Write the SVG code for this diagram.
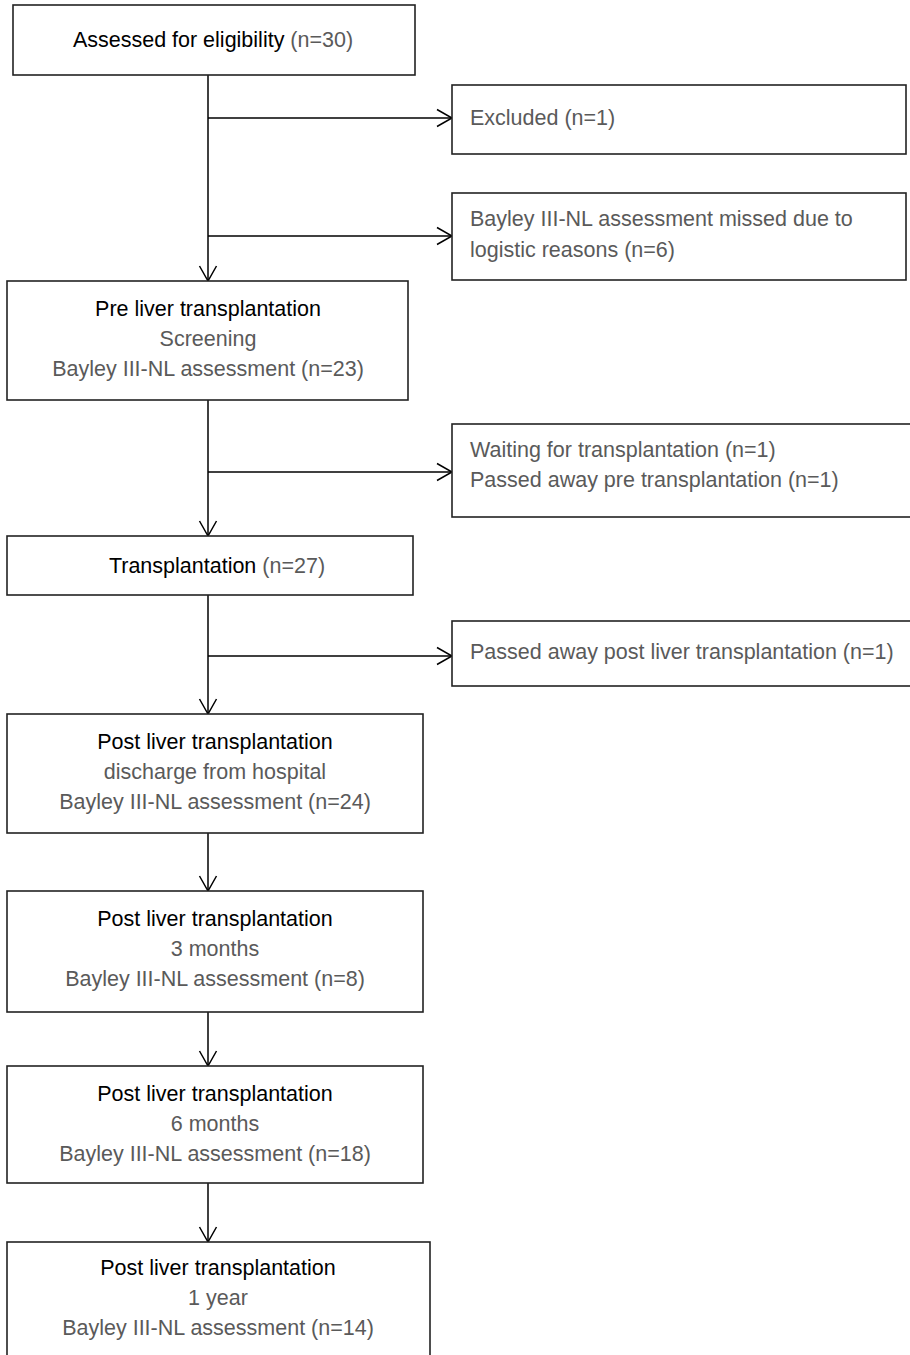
<svg xmlns="http://www.w3.org/2000/svg" width="910" height="1355" viewBox="0 0 910 1355">
<style>
  .box { fill: #ffffff; stroke: #222222; stroke-width: 1.6; }
  .t { font-family: "Liberation Sans", Arial, sans-serif; font-size: 21.5px; }
  .h { fill: #000000; }
  .g { fill: #5a5a5a; }
  .c { text-anchor: middle; }
  .conn { fill: none; stroke: #000000; stroke-width: 1.5; }
</style>
<defs>
  <marker id="arr" markerUnits="userSpaceOnUse" markerWidth="18" markerHeight="20" viewBox="0 0 18 20" refX="16" refY="10" orient="auto">
    <path d="M1,1.5 L16,10 L1,18.5" fill="none" stroke="#000000" stroke-width="1.5"/>
  </marker>
</defs>
<rect x="0" y="0" width="910" height="1355" fill="#ffffff"/>

<g id="connectors">
  <line class="conn" x1="208" y1="75" x2="208" y2="281" marker-end="url(#arr)"/>
  <line class="conn" x1="208" y1="118" x2="452" y2="118" marker-end="url(#arr)"/>
  <line class="conn" x1="208" y1="236" x2="452" y2="236" marker-end="url(#arr)"/>
  <line class="conn" x1="208" y1="400" x2="208" y2="536" marker-end="url(#arr)"/>
  <line class="conn" x1="208" y1="472" x2="452" y2="472" marker-end="url(#arr)"/>
  <line class="conn" x1="208" y1="595" x2="208" y2="714" marker-end="url(#arr)"/>
  <line class="conn" x1="208" y1="656" x2="452" y2="656" marker-end="url(#arr)"/>
  <line class="conn" x1="208" y1="833" x2="208" y2="891" marker-end="url(#arr)"/>
  <line class="conn" x1="208" y1="1012" x2="208" y2="1066" marker-end="url(#arr)"/>
  <line class="conn" x1="208" y1="1183" x2="208" y2="1242" marker-end="url(#arr)"/>
</g>

<g id="assessed">
  <rect class="box" x="13" y="5" width="402" height="70"/>
  <text class="t c" x="213" y="47"><tspan class="h">Assessed for eligibility</tspan><tspan class="g"> (n=30)</tspan></text>
</g>

<g id="excluded">
  <rect class="box" x="452" y="85" width="454" height="69"/>
  <text class="t g" x="470" y="125">Excluded (n=1)</text>
</g>

<g id="missed">
  <rect class="box" x="452" y="193" width="454" height="87"/>
  <text class="t g" x="470" y="226">Bayley III-NL assessment missed due to</text>
  <text class="t g" x="470" y="257">logistic reasons (n=6)</text>
</g>

<g id="pre">
  <rect class="box" x="7" y="281" width="401" height="119"/>
  <text class="t c h" x="208" y="316">Pre liver transplantation</text>
  <text class="t c g" x="208" y="346">Screening</text>
  <text class="t c g" x="208" y="376">Bayley III-NL assessment (n=23)</text>
</g>

<g id="waiting">
  <rect class="box" x="452" y="424" width="470" height="93"/>
  <text class="t g" x="470" y="457">Waiting for transplantation (n=1)</text>
  <text class="t g" x="470" y="487">Passed away pre transplantation (n=1)</text>
</g>

<g id="transplantation">
  <rect class="box" x="7" y="536" width="406" height="59"/>
  <text class="t c" x="217" y="573"><tspan class="h">Transplantation</tspan><tspan class="g"> (n=27)</tspan></text>
</g>

<g id="passedpost">
  <rect class="box" x="452" y="621" width="470" height="65"/>
  <text class="t g" x="470" y="659">Passed away post liver transplantation (n=1)</text>
</g>

<g id="post-discharge">
  <rect class="box" x="7" y="714" width="416" height="119"/>
  <text class="t c h" x="215" y="749">Post liver transplantation</text>
  <text class="t c g" x="215" y="779">discharge from hospital</text>
  <text class="t c g" x="215" y="809">Bayley III-NL assessment (n=24)</text>
</g>

<g id="post-3m">
  <rect class="box" x="7" y="891" width="416" height="121"/>
  <text class="t c h" x="215" y="926">Post liver transplantation</text>
  <text class="t c g" x="215" y="956">3 months</text>
  <text class="t c g" x="215" y="986">Bayley III-NL assessment (n=8)</text>
</g>

<g id="post-6m">
  <rect class="box" x="7" y="1066" width="416" height="117"/>
  <text class="t c h" x="215" y="1101">Post liver transplantation</text>
  <text class="t c g" x="215" y="1131">6 months</text>
  <text class="t c g" x="215" y="1161">Bayley III-NL assessment (n=18)</text>
</g>

<g id="post-1y">
  <rect class="box" x="7" y="1242" width="423" height="125"/>
  <text class="t c h" x="218" y="1275">Post liver transplantation</text>
  <text class="t c g" x="218" y="1305">1 year</text>
  <text class="t c g" x="218" y="1335">Bayley III-NL assessment (n=14)</text>
</g>
</svg>
